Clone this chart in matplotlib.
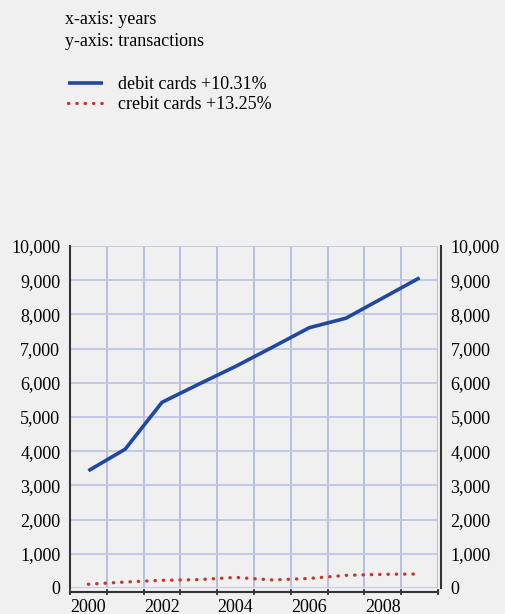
import matplotlib.pyplot as plt
from matplotlib.ticker import MultipleLocator, FixedLocator, FuncFormatter

# --- Data ---
years = [2000, 2001, 2002, 2003, 2004, 2005, 2006, 2007, 2008, 2009]
debit = [3430, 4060, 5430, 5960, 6480, 7040, 7610, 7890, 8480, 9070]
credit = [110, 175, 225, 245, 310, 235, 280, 370, 400, 410]
labeled_years = [2000, 2002, 2004, 2006, 2008]

# --- Plot Config ---
plt.rcParams.update({
    "font.family": ["Liberation Serif", "DejaVu Serif"],
    "font.size": 13,
})
bg = "#f0f0f0"

fig = plt.figure(figsize=(5.05, 6.14), dpi=100, facecolor=bg)
ax = fig.add_axes([70 / 505, 1 - 588 / 614, 368 / 505, 342 / 614], facecolor=bg)

x = list(range(len(years)))
ax.plot(x, debit, color="#1f48a3", lw=2.6, solid_capstyle="butt",
        label="debit cards +10.31%")
ax.plot(x, credit, color="#c0392b", lw=2.4, linestyle=(0, (0.1, 2.4)),
        dash_capstyle="round", label="crebit cards +13.25%")

# --- Axes ---
ax.set_xlim(-0.5, len(years) - 0.5)
ax.set_ylim(0, 10000)

major_x = [years.index(y) for y in labeled_years]
ax.xaxis.set_major_locator(FixedLocator(major_x))
ax.set_xticklabels([str(y) for y in labeled_years])
ax.xaxis.set_minor_locator(MultipleLocator(1, offset=0.5))
ax.yaxis.set_major_locator(MultipleLocator(1000))
ax.yaxis.set_major_formatter(FuncFormatter(lambda v, p: f"{int(v):,}"))

ax.grid(axis="x", which="minor", color="#a9b1e0", lw=1.1)
ax.grid(axis="y", which="major", color="#c3c8e8", lw=1.4)
ax.set_axisbelow(True)

ax.tick_params(axis="x", which="major", length=0, pad=5, labelsize=13)
ax.tick_params(axis="x", which="minor", length=5, width=1.2,
               direction="inout", color="#222222")
ax.tick_params(axis="y", which="both", length=0, pad=7, labelsize=13,
               left=True, right=True, labelleft=True, labelright=True)

for s in ["left", "right", "bottom"]:
    ax.spines[s].set_color("#333333")
    ax.spines[s].set_linewidth(1.5)
ax.spines["top"].set_visible(False)
ax.spines["bottom"].set_position(("outward", 3))
ax.spines["right"].set_position(("outward", 2))

# --- Header texts and legend ---
fig.text(65 / 505, 1 - 19 / 614, "x-axis: years", fontsize=13, va="center")
fig.text(65 / 505, 1 - 41 / 614, "y-axis: transactions", fontsize=13, va="center")

handles, labels = ax.get_legend_handles_labels()
fig.legend(handles, labels, loc="upper left", bbox_to_anchor=(52 / 505, 1 - 60 / 614),
           frameon=False, fontsize=13, handlelength=1.9, handletextpad=0.85,
           labelspacing=0.15, borderpad=0.4)

plt.savefig("out.png", dpi=100, facecolor=bg)
